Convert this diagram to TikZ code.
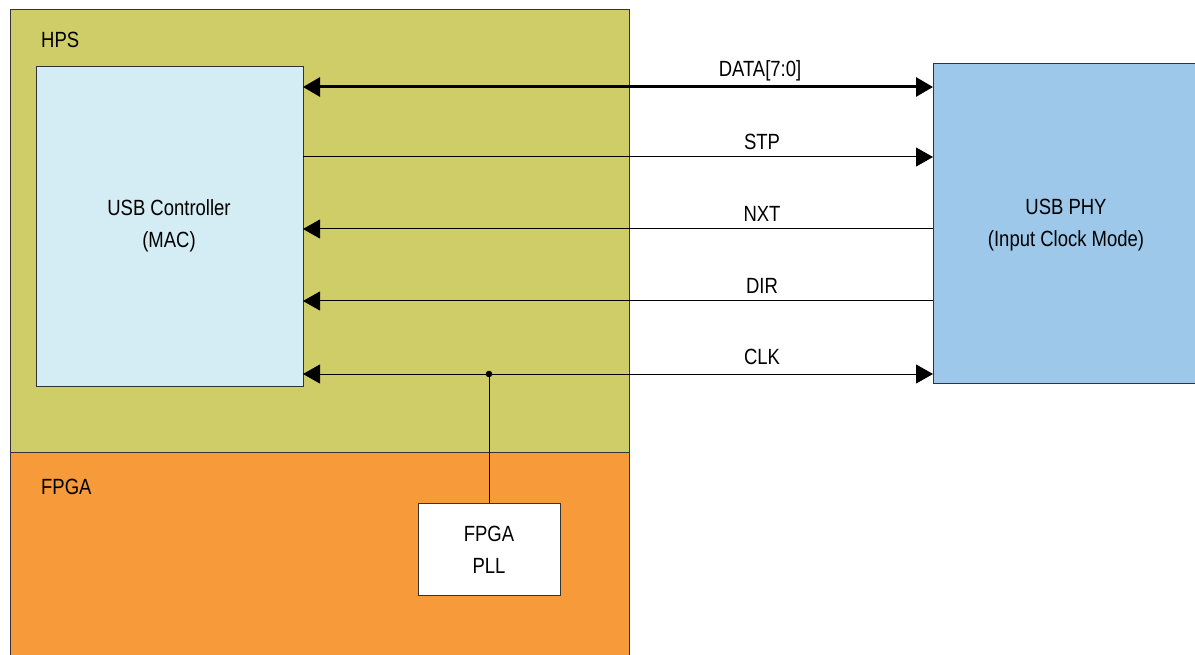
\documentclass[tikz,border=0pt]{standalone}
\usepackage{fontspec}
\setmainfont[FakeStretch=0.84]{Liberation Sans}
\usetikzlibrary{arrows.meta}
\definecolor{hpsc}{HTML}{CFCD68}
\definecolor{fpgac}{HTML}{F79A3A}
\definecolor{macc}{HTML}{D4ECF3}
\definecolor{phyc}{HTML}{9DC8EA}
\tikzset{
  blk/.style={draw=black!80, line width=1pt},
  lbl/.style={font=\fontsize{22}{26}\selectfont, inner sep=0pt},
  sig/.style={line width=1pt, -{Triangle[length=17pt,width=19pt]}},
  sigb/.style={line width=1pt, {Triangle[length=17pt,width=19pt]}-{Triangle[length=17pt,width=19pt]}},
}
\begin{document}
\begin{tikzpicture}[x=1pt,y=-1pt]
\useasboundingbox (0,0) rectangle (1195,655);
\fill[white] (0,0) rectangle (1195,655);
% regions
\path[blk, fill=hpsc] (10,10) rectangle (629,452);
\path[blk, fill=fpgac] (10,452) rectangle (629,660);
\node[lbl, anchor=west] (hps) at (41,40) {HPS};
\node[lbl, anchor=west] (fpga) at (41,487) {FPGA};
% blocks
\node[blk, fill=macc, minimum width=267pt, minimum height=319pt, inner sep=0pt] (mac) at (169.5,226.5) {};
\node[lbl, align=center] (mactxt) at (169,226) {USB Controller\\[6pt](MAC)};
\node[blk, fill=phyc, minimum width=270pt, minimum height=319pt, inner sep=0pt] (phy) at (1068,223.5) {};
\node[lbl, align=center] (phytxt) at (1066,225) {USB PHY\\[6pt](Input Clock Mode)};
\node[blk, fill=white, minimum width=142pt, minimum height=92pt, inner sep=0pt] (pll) at (489,549) {};
\node[lbl, align=center] (plltxt) at (489,550) {FPGA\\[6pt]PLL};
% connection points
\coordinate (m1) at (303,87);  \coordinate (p1) at (933,87);
\coordinate (m2) at (303,157); \coordinate (p2) at (933,157);
\coordinate (m3) at (303,229); \coordinate (p3) at (933,229);
\coordinate (m4) at (303,301); \coordinate (p4) at (933,301);
\coordinate (m5) at (303,374); \coordinate (p5) at (933,374);
\coordinate (dot) at (489,374);
% signals
\draw[sigb, line width=3pt] (m1) -- (p1);
\draw[sig] (m2) -- (p2);
\draw[sig] (p3) -- (m3);
\draw[sig] (p4) -- (m4);
\draw[sigb] (m5) -- (p5);
\fill (dot) circle (3.3pt);
\draw[line width=1pt] (dot) -- (pll.north);
% labels
\node[lbl] (ldata) at (760,71) {DATA[7:0]};
\node[lbl] (lstp) at (762,142) {STP};
\node[lbl] (lnxt) at (762,214) {NXT};
\node[lbl] (ldir) at (762,286) {DIR};
\node[lbl] (lclk) at (762,357) {CLK};
\end{tikzpicture}
\end{document}
